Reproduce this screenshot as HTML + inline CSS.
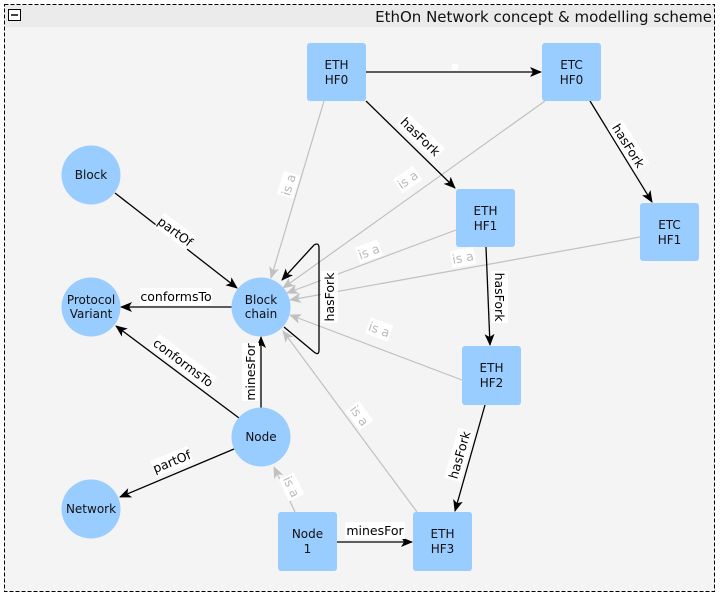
<!DOCTYPE html>
<html><head><meta charset="utf-8"><style>
body{margin:0;background:#fff;}
svg{display:block;font-family:"DejaVu Sans","Liberation Sans",sans-serif;}
.n{fill:#99ccff;}
.t{font-size:12px;fill:#111;text-anchor:middle;}
.l{font-size:12.5px;fill:#000;text-anchor:middle;}
.g{font-size:12.5px;fill:#bbb;text-anchor:middle;}
.e{stroke:#000;stroke-width:1.3;fill:none;}
.eg{stroke:#c0c0c0;stroke-width:1.2;fill:none;}
</style></head><body>
<svg width="720" height="598" viewBox="0 0 720 598">
<defs>
<marker id="a" markerWidth="12" markerHeight="10" refX="11" refY="5" orient="auto" markerUnits="userSpaceOnUse"><path d="M0,0 L12,5 L0,10 L3,5 z" fill="#000"/></marker>
<marker id="ag" markerWidth="12" markerHeight="10" refX="11" refY="5" orient="auto" markerUnits="userSpaceOnUse"><path d="M0,0 L12,5 L0,10 L3,5 z" fill="#c0c0c0"/></marker>
</defs>
<rect x="0" y="0" width="720" height="598" fill="#fff"/>
<rect x="4.5" y="4.5" width="710" height="587" fill="#f4f4f4" stroke="#000" stroke-dasharray="4,2"/>
<rect x="5" y="5" width="709" height="22" fill="#ebebeb"/>
<rect x="8.5" y="9.5" width="12" height="11" fill="#fff" stroke="#000"/>
<line x1="11" y1="15" x2="18" y2="15" stroke="#000" stroke-width="1.5"/>
<text x="712" y="22" style="font-size:15px;text-anchor:end;fill:#111">EthOn Network concept &amp; modelling scheme</text>

<line class="eg" x1="324" y1="101" x2="271" y2="278" marker-end="url(#ag)"/>
<line class="eg" x1="545" y1="101" x2="283" y2="288" marker-end="url(#ag)"/>
<line class="eg" x1="456" y1="230" x2="287" y2="293" marker-end="url(#ag)"/>
<line class="eg" x1="640" y1="237" x2="290" y2="300" marker-end="url(#ag)"/>
<line class="eg" x1="462" y1="380" x2="290" y2="315" marker-end="url(#ag)"/>
<line class="eg" x1="417" y1="512" x2="283" y2="331" marker-end="url(#ag)"/>
<line class="eg" x1="295" y1="512" x2="274" y2="467" marker-end="url(#ag)"/>

<line class="e" x1="366" y1="72" x2="541" y2="72" marker-end="url(#a)"/>
<line class="e" x1="366" y1="101" x2="455" y2="188" marker-end="url(#a)"/>
<line class="e" x1="590" y1="101" x2="652" y2="202" marker-end="url(#a)"/>
<line class="e" x1="486" y1="247" x2="490" y2="345" marker-end="url(#a)"/>
<line class="e" x1="485" y1="405" x2="455" y2="511" marker-end="url(#a)"/>
<line class="e" x1="115" y1="193" x2="237" y2="288" marker-end="url(#a)"/>
<line class="e" x1="232" y1="307" x2="121" y2="307" marker-end="url(#a)"/>
<line class="e" x1="239" y1="418" x2="116" y2="326" marker-end="url(#a)"/>
<line class="e" x1="234" y1="449" x2="120" y2="497" marker-end="url(#a)"/>
<line class="e" x1="261" y1="408" x2="261" y2="337" marker-end="url(#a)"/>
<line class="e" x1="337" y1="542" x2="412" y2="542" marker-end="url(#a)"/>
<path class="e" d="M284,327 L314,352 Q319,356 319,350 L319,248 Q319,242 314,245 L282,280" marker-end="url(#a)"/>

<g><rect x="452" y="64" width="6" height="6" fill="#fff"/></g>
<g transform="translate(420,137) rotate(44)"><rect x="-26" y="-9" width="52" height="17" fill="#fff"/><text class="l" y="4">hasFork</text></g>
<g transform="translate(628,146) rotate(58)"><rect x="-26" y="-9" width="52" height="17" fill="#fff"/><text class="l" y="4">hasFork</text></g>
<g transform="translate(499,297) rotate(90)"><rect x="-26" y="-9" width="52" height="17" fill="#fff"/><text class="l" y="4">hasFork</text></g>
<g transform="translate(460,455) rotate(-74)"><rect x="-26" y="-9" width="52" height="17" fill="#fff"/><text class="l" y="4">hasFork</text></g>
<g transform="translate(330,297) rotate(-90)"><rect x="-26" y="-9" width="52" height="17" fill="#fff"/><text class="l" y="4">hasFork</text></g>
<g transform="translate(175,232) rotate(37)"><rect x="-20" y="-9" width="40" height="17" fill="#fff"/><text class="l" y="4">partOf</text></g>
<g transform="translate(176,297)"><rect x="-36" y="-9" width="72" height="17" fill="#fff"/><text class="l" y="4">conformsTo</text></g>
<g transform="translate(183,363) rotate(37)"><rect x="-36" y="-9" width="72" height="17" fill="#fff"/><text class="l" y="4">conformsTo</text></g>
<g transform="translate(172,462) rotate(-22)"><rect x="-20" y="-9" width="40" height="17" fill="#fff"/><text class="l" y="4">partOf</text></g>
<g transform="translate(251,372) rotate(-90)"><rect x="-29" y="-9" width="58" height="17" fill="#fff"/><text class="l" y="4">minesFor</text></g>
<g transform="translate(375,531)"><rect x="-30" y="-9" width="60" height="17" fill="#fff"/><text class="l" y="4">minesFor</text></g>
<g transform="translate(289,185) rotate(-73)"><rect x="-12" y="-9" width="24" height="17" fill="#fff"/><text class="g" y="4">is a</text></g>
<g transform="translate(408,180) rotate(-35)"><rect x="-12" y="-9" width="24" height="17" fill="#fff"/><text class="g" y="4">is a</text></g>
<g transform="translate(369,252) rotate(-20)"><rect x="-12" y="-9" width="24" height="17" fill="#fff"/><text class="g" y="4">is a</text></g>
<g transform="translate(463,258) rotate(-10)"><rect x="-12" y="-9" width="24" height="17" fill="#fff"/><text class="g" y="4">is a</text></g>
<g transform="translate(379,330) rotate(20)"><rect x="-12" y="-9" width="24" height="17" fill="#fff"/><text class="g" y="4">is a</text></g>
<g transform="translate(359,416) rotate(54)"><rect x="-12" y="-9" width="24" height="17" fill="#fff"/><text class="g" y="4">is a</text></g>
<g transform="translate(291,487) rotate(65)"><rect x="-12" y="-9" width="24" height="17" fill="#fff"/><text class="g" y="4">is a</text></g>

<rect class="n" x="307" y="43" width="59" height="58" rx="3"/><text class="t" x="336.5" y="69">ETH</text><text class="t" x="336.5" y="84">HF0</text>
<rect class="n" x="542" y="43" width="59" height="58" rx="3"/><text class="t" x="571.5" y="69">ETC</text><text class="t" x="571.5" y="84">HF0</text>
<rect class="n" x="456" y="189" width="59" height="58" rx="3"/><text class="t" x="485.5" y="215">ETH</text><text class="t" x="485.5" y="230">HF1</text>
<rect class="n" x="640" y="203" width="59" height="58" rx="3"/><text class="t" x="669.5" y="229">ETC</text><text class="t" x="669.5" y="244">HF1</text>
<rect class="n" x="462" y="346" width="59" height="59" rx="3"/><text class="t" x="491.5" y="372">ETH</text><text class="t" x="491.5" y="387">HF2</text>
<rect class="n" x="413" y="512" width="59" height="59" rx="3"/><text class="t" x="442.5" y="538">ETH</text><text class="t" x="442.5" y="553">HF3</text>
<rect class="n" x="278" y="512" width="59" height="59" rx="3"/><text class="t" x="307.5" y="538">Node</text><text class="t" x="307.5" y="553">1</text>
<circle class="n" cx="91" cy="175" r="29.5"/><text class="t" x="91" y="179">Block</text>
<circle class="n" cx="91" cy="307" r="29.5"/><text class="t" x="91" y="304">Protocol</text><text class="t" x="91" y="318">Variant</text>
<circle class="n" cx="261" cy="307" r="29.5"/><text class="t" x="261" y="304">Block</text><text class="t" x="261" y="318">chain</text>
<circle class="n" cx="261" cy="437" r="29.5"/><text class="t" x="261" y="441">Node</text>
<circle class="n" cx="91" cy="509" r="29.5"/><text class="t" x="91" y="513">Network</text>
</svg>
</body></html>
